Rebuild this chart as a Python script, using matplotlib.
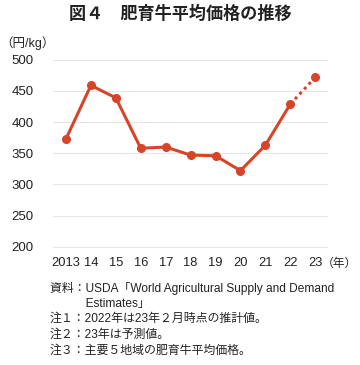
import matplotlib
matplotlib.use("Agg")
import matplotlib.pyplot as plt

plt.rcParams['font.family'] = ['Liberation Sans', 'Noto Sans CJK JP']

years = [2013, 2014, 2015, 2016, 2017, 2018, 2019, 2020, 2021, 2022, 2023]
year_labels = ['2013', '14', '15', '16', '17', '18', '19', '20', '21', '22', '23']
price = [373, 459, 439, 358, 360, 347, 346, 322, 363, 429, 472]
yticks = [200, 250, 300, 350, 400, 450, 500]

notes = [
    '資料：USDA「World Agricultural Supply and Demand',
    '　　　Estimates」',
    '注１：2022年は23年２月時点の推計値。',
    '注２：23年は予測値。',
    '注３：主要５地域の肥育牛平均価格。',
]

red = '#d6452a'
txt = '#222222'

fig = plt.figure(figsize=(3.6, 3.65), dpi=100)
ax = fig.add_axes([53/360, 1 - 248.5/365, 275/360, 190.5/365])

# actual values up to 2022, forecast 2023 dotted
ax.plot(years[:-1], price[:-1], color=red, lw=2.2, marker='o', ms=5.5, zorder=3)
ax.plot(years[-2:], price[-2:], color=red, lw=2.2, ls=(0, (1, 1.2)), zorder=3)
ax.plot(years[-1:], price[-1:], color=red, marker='o', ms=5.5, ls='none', zorder=3)

ax.set_xlim(2012.48, 2023.51)
ax.set_ylim(197, 503)
ax.set_yticks(yticks)
ax.set_xticks(years)
ax.set_xticklabels(year_labels)
ax.grid(axis='y', color='#e6e6e6', lw=0.8)
ax.set_axisbelow(True)
for s in ax.spines.values():
    s.set_visible(False)
ax.tick_params(length=0, colors=txt)
ax.tick_params(axis='y', labelsize=9.5, pad=14)
ax.tick_params(axis='x', labelsize=9.3, pad=6)

fig.text(0.5, 1 - 13/365, '図４　肥育牛平均価格の推移', ha='center', va='center',
         fontsize=12.3, fontweight='bold', color=txt)
fig.text(0, 1 - 43/365, '（円/kg）', ha='left', va='center', fontsize=9,
         color=txt)
fig.text(357/360, 1 - 264/365, '（年）', ha='right', va='center', fontsize=8.5,
         color=txt)

y0 = 288
for i, line in enumerate(notes):
    fig.text(50/360, 1 - (y0 + i * 15.6)/365, line, ha='left', va='center',
             fontsize=8.6, color=txt)

fig.savefig('out.png', dpi=100)
